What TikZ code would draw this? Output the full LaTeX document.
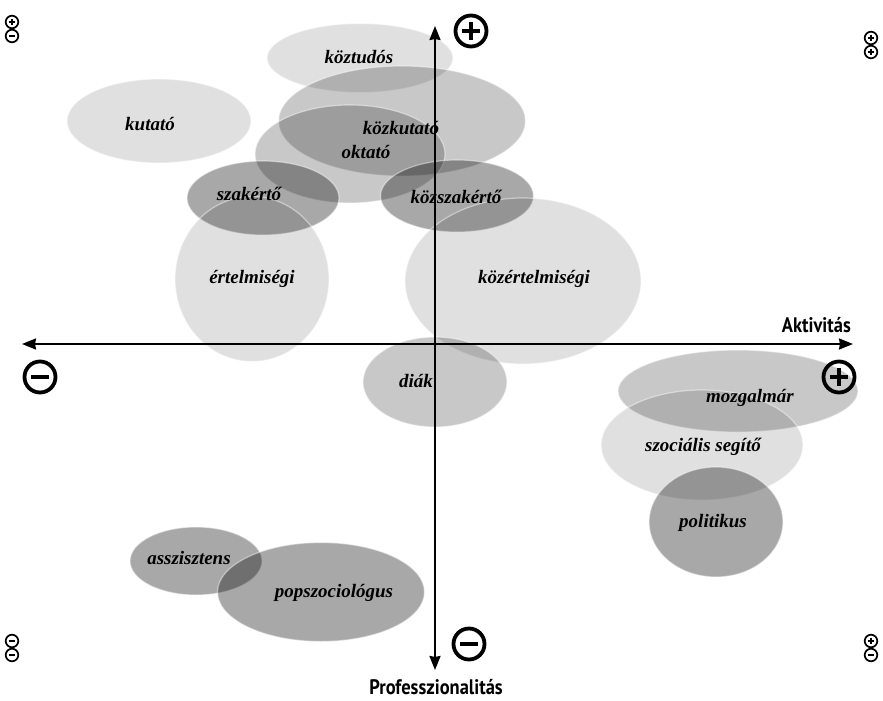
\documentclass[tikz,border=0pt]{standalone}
\usepackage{fontspec}
\setmainfont{Liberation Serif}
\newfontfamily\axisfont[FakeStretch=0.88]{PT Sans}
\usetikzlibrary{shapes.geometric,arrows.meta,calc}
\tikzset{
  blob/.style={ellipse, inner sep=0pt, fill=black, draw=white, draw opacity=0.45, line width=1.2pt},
  light/.style={blob, fill opacity=0.12},
  medium/.style={blob, fill opacity=0.215},
  dark/.style={blob, fill opacity=0.34},
  lbl/.style={font=\fontsize{19}{21}\selectfont\bfseries\itshape, inner sep=0pt},
  axislbl/.style={font=\axisfont\fontsize{21}{23}\selectfont\bfseries, inner sep=0pt},
  axis/.style={line width=2.1pt, {Stealth[length=14pt,width=11pt,inset=1pt]}-{Stealth[length=14pt,width=11pt,inset=1pt]}},
  bigsym/.style={line width=3.8pt},
  smallsym/.style={line width=1.7pt}
}
\newcommand{\plussym}[4]{% name, pos, radius, style
  \node[circle, inner sep=0pt, minimum size=#3*2pt] (#1) at #2 {};
  \draw[#4] (#1) circle (#3);
  \draw[#4] ($(#1)+(-0.55*#3,0)$) -- ($(#1)+(0.55*#3,0)$);
  \draw[#4] ($(#1)+(0,-0.55*#3)$) -- ($(#1)+(0,0.55*#3)$);
}
\newcommand{\minussym}[4]{%
  \node[circle, inner sep=0pt, minimum size=#3*2pt] (#1) at #2 {};
  \draw[#4] (#1) circle (#3);
  \draw[#4] ($(#1)+(-0.55*#3,0)$) -- ($(#1)+(0.55*#3,0)$);
}
\begin{document}
\begin{tikzpicture}[x=1pt,y=-1pt]
\useasboundingbox (0,0) rectangle (883,701);
% ellipses
\node[light, minimum width=186pt, minimum height=69pt] (e-koztudos) at (360,58) {};
\node[light, minimum width=184pt, minimum height=84pt] (e-kutato) at (159,121) {};
\node[medium, minimum width=247pt, minimum height=110pt] (e-kozkutato) at (402,121) {};
\node[medium, minimum width=190pt, minimum height=98pt] (e-oktato) at (350,154) {};
\node[dark, minimum width=152pt, minimum height=74pt] (e-szakerto) at (263,198) {};
\node[dark, minimum width=153pt, minimum height=72pt] (e-kozszakerto) at (457,196) {};
\node[light, minimum width=154pt, minimum height=165pt] (e-ertelmisegi) at (252,279) {};
\node[light, minimum width=236pt, minimum height=166pt] (e-kozertelmisegi) at (523,281) {};
\node[medium, minimum width=144pt, minimum height=90pt] (e-diak) at (435,382) {};
\node[medium, minimum width=240pt, minimum height=82pt] (e-mozgalmar) at (738,391) {};
\node[light, minimum width=202pt, minimum height=110pt] (e-szocialis) at (702,445) {};
\node[dark, minimum width=134pt, minimum height=110pt] (e-politikus) at (716,522) {};
\node[dark, minimum width=132pt, minimum height=68pt] (e-asszisztens) at (196,561) {};
\node[dark, minimum width=207pt, minimum height=99pt] (e-popszociologus) at (321,592) {};
% axes
\coordinate (xl) at (22,344);
\coordinate (xr) at (853,344);
\coordinate (yt) at (435,26);
\coordinate (yb) at (435,670);
\draw[axis] (xl) -- (xr);
\draw[axis] (yb) -- (yt);
\node[axislbl, anchor=south east] (aktivitas) at (851,333) {Aktivitás};
\node[axislbl, anchor=north] (prof) at (436,679) {Professzionalitás};
% labels
\node[lbl] (t-koztudos) at (359,57) {köztudós};
\node[lbl] (t-kutato) at (150,124) {kutató};
\node[lbl] (t-kozkutato) at (401,128) {közkutató};
\node[lbl] (t-oktato) at (366,152) {oktató};
\node[lbl] (t-szakerto) at (249,194) {szakértő};
\node[lbl] (t-kozszakerto) at (456,197) {közszakértő};
\node[lbl] (t-ertelmisegi) at (252,279) {értelmiségi};
\node[lbl] (t-kozertelmisegi) at (534,279) {közértelmiségi};
\node[lbl] (t-diak) at (416,381) {diák};
\node[lbl] (t-mozgalmar) at (750,398) {mozgalmár};
\node[lbl] (t-szocialis) at (703,447) {szociális segítő};
\node[lbl] (t-politikus) at (713,523) {politikus};
\node[lbl] (t-asszisztens) at (189,558) {asszisztens};
\node[lbl] (t-popszociologus) at (334,593) {popszociológus};
% big symbols
\plussym{s-top}{(471,31)}{15.5}{bigsym}
\plussym{s-right}{(839,377)}{15.5}{bigsym}
\minussym{s-left}{(40,377)}{15.5}{bigsym}
\minussym{s-bottom}{(469,644)}{15.5}{bigsym}
% corner symbols
\plussym{c-tl1}{(12,22)}{6.3}{smallsym}
\minussym{c-tl2}{(12,36)}{6.3}{smallsym}
\plussym{c-tr1}{(871,38)}{6.3}{smallsym}
\plussym{c-tr2}{(871,52)}{6.3}{smallsym}
\minussym{c-bl1}{(12,641)}{6.3}{smallsym}
\minussym{c-bl2}{(12,655)}{6.3}{smallsym}
\plussym{c-br1}{(871,641)}{6.3}{smallsym}
\minussym{c-br2}{(871,655)}{6.3}{smallsym}
\end{tikzpicture}
\end{document}
